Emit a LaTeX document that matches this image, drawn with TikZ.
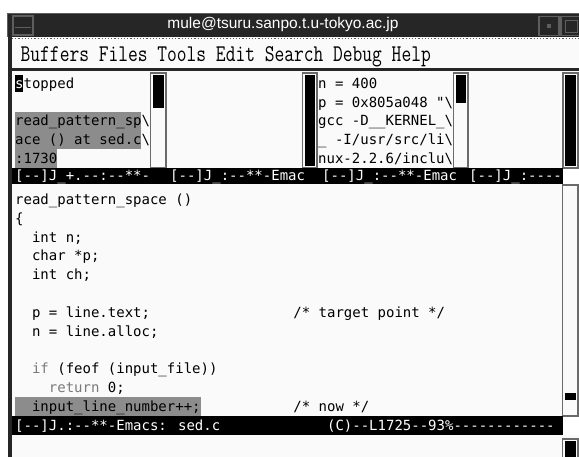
\documentclass[tikz,border=0pt]{standalone}
\usepackage{fontspec}
\usepackage{graphicx}
\newfontfamily\codefont{DejaVu Sans Mono}
\newfontfamily\titlefont{Liberation Sans}
\definecolor{framedark}{HTML}{262626}
\definecolor{framelight}{HTML}{5E5E5E}
\definecolor{paper}{HTML}{FAFAFA}
\definecolor{hilite}{HTML}{8C8C8C}
\definecolor{kwgray}{HTML}{7A7A7A}
\definecolor{sbedge}{HTML}{6A6A6A}
\tikzset{
  code/.style={anchor=base west, inner sep=0pt, text=black,
    font=\codefont\fontsize{14}{14}\selectfont},
  modetext/.style={code, text=white},
  kw/.style={code, text=kwgray},
  trough/.style={fill=paper, draw=sbedge, line width=1.2pt},
  thumb/.style={fill=black},
  tbutton/.style={draw=framelight, line width=1.2pt},
}
\begin{document}
\begin{tikzpicture}[x=1pt, y=-1pt]
\useasboundingbox (0,0) rectangle (579,457);
\fill[white] (0,0) rectangle (579,457);

% ---- title bar ----
\fill[framedark] (7,13) rectangle (579,37);
\draw[framelight, line width=1pt] (7.5,37) -- (7.5,13.5) -- (579,13.5);
\draw[tbutton] (13,16) rectangle (33,35);
\draw[framelight, line width=1.5pt] (15,27.5) -- (31,27.5);
\draw[tbutton] (539,16.5) rectangle (559,35.5);
\fill[framelight] (547,24.5) rectangle (551,28.5);
\draw[tbutton] (561,16.5) rectangle (580,35.5);
\draw[framelight, line width=1pt] (565,21) rectangle (577,33);
\node[text=white, font=\titlefont\fontsize{15.5}{15.5}\selectfont, inner sep=0pt]
  (title) at (283,24.5) {mule@tsuru.sanpo.t.u-tokyo.ac.jp};

% ---- left frame ----
\fill[framedark] (7.5,37) rectangle (12,457);

% ---- menu bar ----
\fill[paper] (12,37) rectangle (579,68);
\draw[framelight, dotted, line width=1.2pt] (12,38.8) -- (579,38.8);
\fill[framedark] (12,68) rectangle (579,71.5);
\node[anchor=base west, inner sep=0pt] (menu) at (20.5,62)
  {\scalebox{0.79}[1]{\fontsize{24}{24}\selectfont\ttfamily Buffers Files Tools Edit Search Debug Help}};

% ---- upper windows ----
\fill[paper] (12,71.5) rectangle (579,168.5);

% pane 1: highlighted frame text
\fill[hilite] (15,112) rectangle (141.4,149.5);
\fill[hilite] (15,149.5) rectangle (57.2,168.5);
\fill[black] (15,75.5) rectangle (23.4,92.5);
\node[code, text=white] (p1c) at (15,88.5) {s};
\node[code] (p1a) at (23.43,88.5) {topped};
\node[code] (p1b) at (15,125.9) {read\_pattern\_sp\textbackslash};
\node[code] (p1d) at (15,144.6) {ace () at sed.c\textbackslash};
\node[code] (p1e) at (15,163.3) {:1730};

% pane 3: variable values
\node[code] (p3a) at (318,88.5) {n = 400};
\node[code] (p3b) at (318,107.2) {p = 0x805a048 "\textbackslash};
\node[code] (p3c) at (318,125.9) {gcc -D\_\_KERNEL\_\textbackslash};
\node[code] (p3d) at (318,144.6) {\_ -I/usr/src/li\textbackslash};
\node[code] (p3e) at (318,163.3) {nux-2.2.6/inclu\textbackslash};

% scroll bars of the upper windows
\draw[trough] (150.5,73) rectangle (166,168);
\fill[thumb] (152.7,75) rectangle (164,108);
\draw[trough] (302.5,73) rectangle (317,168);
\fill[thumb] (304.5,75) rectangle (315,166.5);
\draw[trough] (453.5,73) rectangle (468,168);
\fill[thumb] (455.5,75) rectangle (466,103.5);
\draw[trough] (563,73) rectangle (578,168);
\fill[thumb] (565,75) rectangle (576,166.5);

% mode lines of the upper windows
\fill[black] (12,168.5) rectangle (562.5,184);
\node[modetext] (ml1) at (15,180.5) {[--]J\_+.--:--**-};
\node[modetext] (ml2) at (170,180.5) {[--]J\_:--**-Emac};
\node[modetext] (ml3) at (322,180.5) {[--]J\_:--**-Emac};
\node[modetext] (ml4) at (469,180.5) {[--]J\_:----};

% ---- main window ----
\fill[paper] (12,184) rectangle (579,416.2);
\fill[hilite] (15,397.4) rectangle (200.5,416.2);
\node[code] (c0) at (15,204.5) {read\_pattern\_space ()};
\node[code] (c1) at (15,223.3) {\{};
\node[code] (c2) at (31.86,242.1) {int n;};
\node[code] (c3) at (31.86,260.9) {char *p;};
\node[code] (c4) at (31.86,279.7) {int ch;};
\node[code] (c6) at (31.86,317.3) {p = line.text;};
\node[code] (c6c) at (293.2,317.3) {/* target point */};
\node[code] (c7) at (31.86,336.1) {n = line.alloc;};
\node[kw] (c9k) at (31.86,373.7) {if};
\node[code] (c9) at (57.15,373.7) {(feof (input\_file))};
\node[kw] (c10k) at (48.72,392.5) {return};
\node[code] (c10) at (107.73,392.5) {0;};
\node[code] (c11) at (31.86,411.3) {input\_line\_number++;};
\node[code] (c11c) at (293.2,411.3) {/* now */};

% main scroll bar
\draw[trough] (562.5,185) rectangle (578,416);
\fill[thumb] (564.5,393) rectangle (576,400.5);

% main mode line
\fill[black] (12,416.2) rectangle (562.5,435);
\node[modetext] (mm1) at (15,430.1) {[--]J.:--**-Emacs: sed.c};
\node[modetext] (mm2) at (326.9,430.1) {(C)--L1725--93\%------------};

% ---- minibuffer ----
\fill[paper] (12,435) rectangle (579,457);
\draw[trough] (562.5,439) rectangle (578,458);
\fill[thumb] (564.5,441) rectangle (576,457);
\end{tikzpicture}
\end{document}
